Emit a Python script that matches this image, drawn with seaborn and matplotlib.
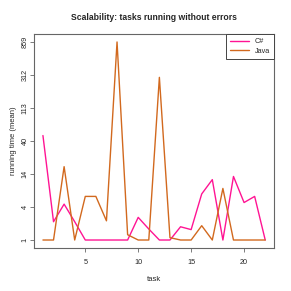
import numpy as np
import pandas as pd
import seaborn as sns
import matplotlib
matplotlib.use("Agg")
import matplotlib.pyplot as plt

# values (mean running time per task)
tasks = list(range(1, 23))
csharp = [48, 2.5, 5.0, 2.5, 1, 1, 1, 1, 1, 3.0, 1.8, 1, 1, 2.0, 1.75,
          7.2, 11.7, 1, 13.0, 5.3, 6.6, 1]
java = [1, 1, 17.9, 1, 6.6, 6.6, 2.6, 859, 1.35, 1, 1, 290, 1.15, 1, 1,
        2.1, 1, 8.7, 1, 1, 1, 1]

df = pd.concat([
    pd.DataFrame({"task": tasks, "time": csharp, "lang": "C#"}),
    pd.DataFrame({"task": tasks, "time": java, "lang": "Java"}),
])

sns.set_style("white")
plt.rcParams["font.family"] = ["Liberation Sans", "DejaVu Sans"]

fig = plt.figure(figsize=(2.91, 2.91), dpi=100)
ax = fig.add_axes([0.117, 0.148, 0.825, 0.735])

sns.lineplot(data=df, x="task", y="time", hue="lang",
             palette={"C#": "#ff1493", "Java": "#d2691e"},
             linewidth=1.0, ax=ax, estimator=None)

# y axis is log(x+1), ticks evenly spaced between min and max
ax.set_yscale("function", functions=(np.log1p, np.expm1))
lo, hi = np.log1p(df["time"].min()), np.log1p(df["time"].max())
pad = (hi - lo) * 0.04
ax.set_ylim(np.expm1(lo - pad), np.expm1(hi + pad))
tk = np.expm1(np.linspace(lo, hi, 7))
ax.set_yticks(tk)
ax.set_yticklabels([str(int(round(v))) for v in tk], rotation=90, va="center")
ax.minorticks_off()

ax.set_xlim(1 - 0.84, 22 + 0.84)
ax.set_xticks([5, 10, 15, 20])

for s in ax.spines.values():
    s.set_color("#666666")
    s.set_linewidth(0.8)
ax.tick_params(axis="both", direction="out", length=3, width=0.6,
               color="#666666", labelsize=5.2, left=True, bottom=True)
ax.tick_params(axis="x", pad=5)
ax.tick_params(axis="y", pad=1)

ax.set_xlabel("task", fontsize=5.5, labelpad=7)
ax.set_ylabel("running time (mean)", fontsize=5.5, labelpad=3)
ax.set_title("Scalability: tasks running without errors",
             fontsize=6.2, fontweight="bold", pad=10)

leg = ax.legend(loc="upper right", borderaxespad=0, fontsize=5.2,
                fancybox=False, framealpha=1, handlelength=2.6,
                borderpad=0.6, labelspacing=0.3)
leg.get_frame().set_edgecolor("#444444")
leg.get_frame().set_linewidth(0.7)

fig.savefig("out.png", dpi=100)
